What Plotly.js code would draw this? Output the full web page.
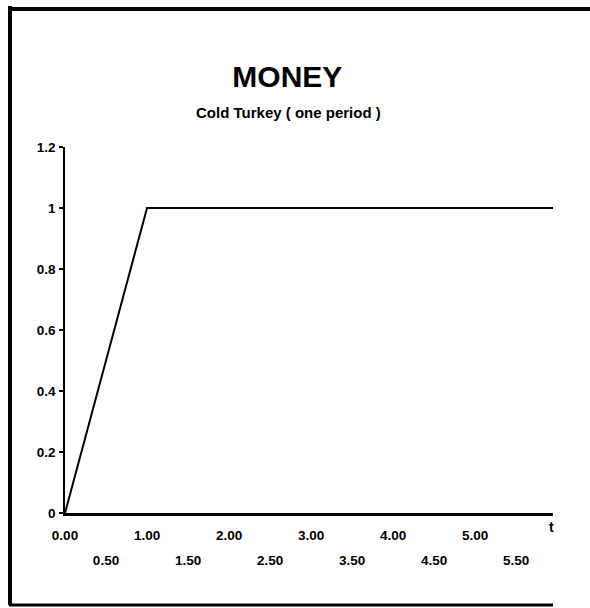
<!DOCTYPE html>
<html>
<head>
<meta charset="utf-8">
<script src="https://cdn.plot.ly/plotly-3.0.1.min.js"></script>
<style>
html,body{margin:0;padding:0;background:#fff;}
#chart{width:590px;height:608px;}
</style>
</head>
<body>
<div id="chart"></div>
<script>
// Data
const t = [0, 1, 2, 3, 4, 5, 6];
const money = [0, 1, 1, 1, 1, 1, 1];
const yTickVals = [0, 0.2, 0.4, 0.6, 0.8, 1, 1.2];
const xMajorVals = [0, 1, 2, 3, 4, 5];
const xMajorText = ["0.00", "1.00", "2.00", "3.00", "4.00", "5.00"];
const xMinorVals = [0.5, 1.5, 2.5, 3.5, 4.5, 5.5];
const xMinorText = ["0.50", "1.50", "2.50", "3.50", "4.50", "5.50"];
const titleText = "MONEY";
const subtitleText = "Cold Turkey ( one period )";
const xLabel = "t";

const tickFont = {family: "Liberation Sans, Arial, sans-serif", size: 13.5, color: "#000", weight: "bold"};

const data = [
  {x: t, y: money, type: "scatter", mode: "lines", xaxis: "x", yaxis: "y",
   line: {color: "#000", width: 2}, hoverinfo: "skip", showlegend: false},
  {x: t, y: money, type: "scatter", mode: "lines", xaxis: "x2", yaxis: "y",
   line: {color: "rgba(0,0,0,0)", width: 0}, hoverinfo: "skip", showlegend: false}
];

const layout = {
  width: 590, height: 608,
  margin: {l: 65, r: 37, t: 147, b: 95},
  paper_bgcolor: "#fff", plot_bgcolor: "#fff",
  showlegend: false,
  title: {
    text: titleText,
    font: {family: "Liberation Sans, Arial, sans-serif", size: 30, color: "#000", weight: "bold"},
    x: 0.487, xanchor: "center", xref: "container",
    y: 0.875, yanchor: "middle", yref: "container"
  },
  xaxis: {
    range: [0, 5.95], showgrid: false, zeroline: false,
    showline: true, linecolor: "#000", linewidth: 2.5,
    tickmode: "array", tickvals: xMajorVals, ticktext: xMajorText,
    ticks: "", ticklabelstandoff: 8, tickfont: tickFont
  },
  xaxis2: {
    range: [0, 5.95], overlaying: "x", anchor: "y", side: "bottom",
    showgrid: false, zeroline: false, showline: false,
    tickmode: "array", tickvals: xMinorVals, ticktext: xMinorText,
    ticks: "", ticklabelstandoff: 37, tickfont: tickFont
  },
  yaxis: {
    range: [0, 1.2], showgrid: false, zeroline: false,
    showline: true, linecolor: "#000", linewidth: 1.8,
    tickmode: "array", tickvals: yTickVals,
    ticks: "outside", ticklen: 4, tickwidth: 1.5, tickcolor: "#000",
    ticklabelstandoff: 1, tickfont: tickFont
  },
  annotations: [
    {text: subtitleText, xref: "paper", yref: "paper", x: 0.457, y: 1.0956,
     xanchor: "center", yanchor: "middle", showarrow: false,
     font: {family: "Liberation Sans, Arial, sans-serif", size: 15, color: "#000", weight: "bold"}},
    {text: xLabel, xref: "paper", yref: "paper", x: 0.996, y: -0.038,
     xanchor: "center", yanchor: "middle", showarrow: false,
     font: {family: "Liberation Sans, Arial, sans-serif", size: 14, color: "#000", weight: "bold"}}
  ],
  shapes: [
    {type: "line", xref: "paper", yref: "paper", x0: -0.1148, x1: 1.0758, y0: 1.377, y1: 1.377,
     line: {color: "#000", width: 4}},
    {type: "line", xref: "paper", yref: "paper", x0: -0.1127, x1: -0.1127, y0: 1.385, y1: -0.2514,
     line: {color: "#000", width: 4}},
    {type: "line", xref: "paper", yref: "paper", x0: -0.1148, x1: 1.0, y0: -0.2514, y1: -0.2514,
     line: {color: "#000", width: 3}}
  ]
};

Plotly.newPlot("chart", data, layout, {displayModeBar: false, staticPlot: true});
</script>
</body>
</html>
